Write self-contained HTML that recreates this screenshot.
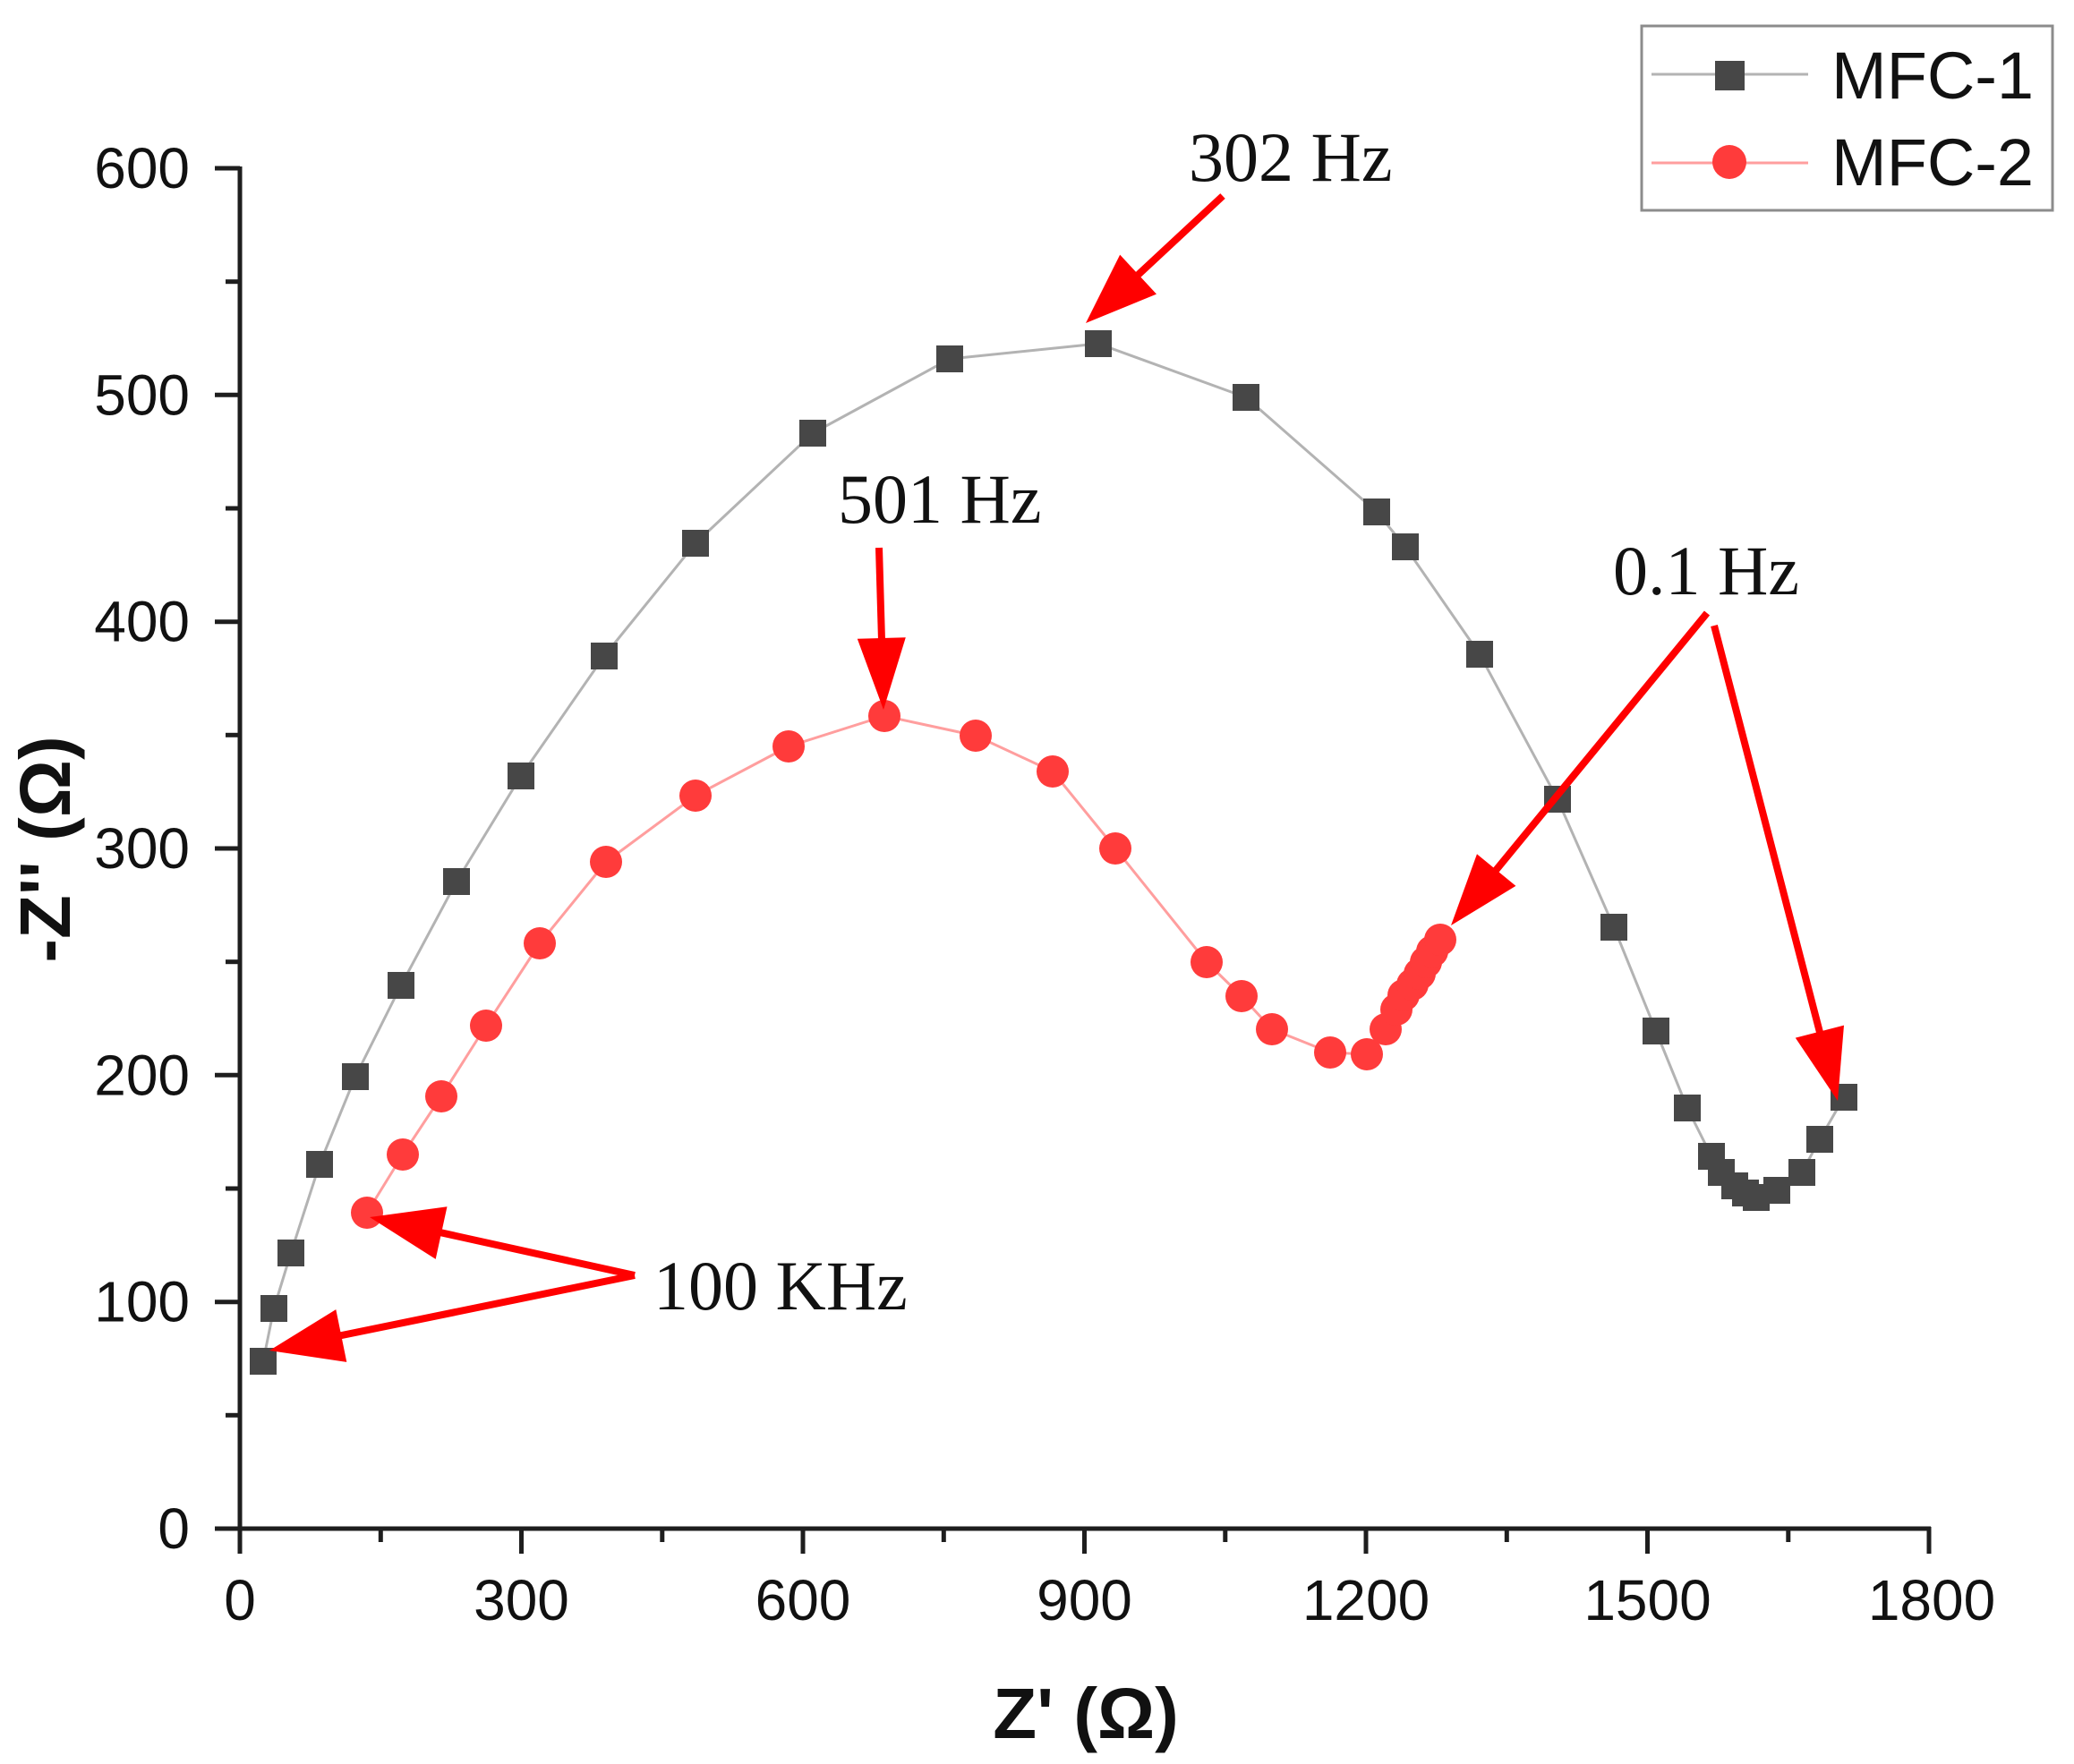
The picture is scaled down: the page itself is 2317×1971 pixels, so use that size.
<!DOCTYPE html>
<html>
<head>
<meta charset="utf-8">
<style>
html,body{margin:0;padding:0;background:#fff;}
svg{display:block;}
</style>
</head>
<body>
<svg width="2317" height="1971" viewBox="0 0 2317 1971" xmlns="http://www.w3.org/2000/svg">
<rect x="0" y="0" width="2317" height="1971" fill="#fff"/>

<!-- Axes -->
<g stroke="#1e1e1e" stroke-width="5" fill="none" stroke-linecap="butt">
  <line x1="268" y1="186" x2="268" y2="1736"/>
  <line x1="240" y1="1708" x2="2157" y2="1708"/>
  <line x1="240" y1="188" x2="268" y2="188"/>
  <line x1="240" y1="441.3" x2="268" y2="441.3"/>
  <line x1="240" y1="694.7" x2="268" y2="694.7"/>
  <line x1="240" y1="948" x2="268" y2="948"/>
  <line x1="240" y1="1201.3" x2="268" y2="1201.3"/>
  <line x1="240" y1="1454.7" x2="268" y2="1454.7"/>
  <line x1="252" y1="314.7" x2="268" y2="314.7"/>
  <line x1="252" y1="568" x2="268" y2="568"/>
  <line x1="252" y1="821.3" x2="268" y2="821.3"/>
  <line x1="252" y1="1074.7" x2="268" y2="1074.7"/>
  <line x1="252" y1="1328" x2="268" y2="1328"/>
  <line x1="252" y1="1581.3" x2="268" y2="1581.3"/>
  <line x1="582.5" y1="1708" x2="582.5" y2="1736"/>
  <line x1="897" y1="1708" x2="897" y2="1736"/>
  <line x1="1211.5" y1="1708" x2="1211.5" y2="1736"/>
  <line x1="1526" y1="1708" x2="1526" y2="1736"/>
  <line x1="1840.5" y1="1708" x2="1840.5" y2="1736"/>
  <line x1="2155" y1="1706" x2="2155" y2="1736"/>
  <line x1="425.3" y1="1708" x2="425.3" y2="1723"/>
  <line x1="739.8" y1="1708" x2="739.8" y2="1723"/>
  <line x1="1054.3" y1="1708" x2="1054.3" y2="1723"/>
  <line x1="1368.8" y1="1708" x2="1368.8" y2="1723"/>
  <line x1="1683.3" y1="1708" x2="1683.3" y2="1723"/>
  <line x1="1997.8" y1="1708" x2="1997.8" y2="1723"/>
</g>

<!-- Tick labels -->
<g font-family="'Liberation Sans', Arial, sans-serif" font-size="64" fill="#111">
  <g text-anchor="end">
    <text x="212" y="210">600</text>
    <text x="212" y="463.3">500</text>
    <text x="212" y="716.7">400</text>
    <text x="212" y="970">300</text>
    <text x="212" y="1223.3">200</text>
    <text x="212" y="1476.7">100</text>
    <text x="212" y="1730">0</text>
  </g>
  <g text-anchor="middle">
    <text x="268" y="1810">0</text>
    <text x="582.5" y="1810">300</text>
    <text x="897" y="1810">600</text>
    <text x="1211.5" y="1810">900</text>
    <text x="1526" y="1810">1200</text>
    <text x="1840.5" y="1810">1500</text>
    <text x="2158" y="1810">1800</text>
  </g>
</g>

<!-- Axis titles -->
<text x="1213" y="1942" text-anchor="middle" font-family="'Liberation Sans', Arial, sans-serif" font-weight="bold" font-size="80" fill="#111">Z' (Ω)</text>
<text transform="translate(78,949) rotate(-90)" x="0" y="0" text-anchor="middle" font-family="'Liberation Sans', Arial, sans-serif" font-weight="bold" font-size="80" fill="#111">-Z'' (Ω)</text>

<!-- MFC-1 line -->
<polyline fill="none" stroke="#b3b3b3" stroke-width="3" stroke-linejoin="round"
points="294,1521 306,1462 325,1400 357,1301 397,1203 448,1101 510,985 582,867 675,733 777,607 908,484 1061,401 1227,384 1392,444 1538,572 1570,611 1653,731 1740,893 1803,1036 1850,1152 1885,1238 1912,1292 1923,1310 1938,1325 1950,1333 1962,1338 1985,1330 2013,1310 2033,1273 2060,1226"/>

<!-- MFC-2 line -->
<polyline fill="none" stroke="#ff9e9e" stroke-width="3" stroke-linejoin="round"
points="410,1355 450,1290 493,1225 543,1146 603,1054 677,963 777,889 881,834 988,800 1090,822 1176,862 1246,948 1348,1075 1387,1113 1421,1150 1486,1176 1527,1178 1548,1150 1560,1128 1568,1112 1578,1100 1586,1088 1593,1075 1600,1063 1609,1050"/>

<!-- MFC-1 squares -->
<g fill="#474747">
<rect x="279" y="1506" width="30" height="30"/>
<rect x="291" y="1447" width="30" height="30"/>
<rect x="310" y="1385" width="30" height="30"/>
<rect x="342" y="1286" width="30" height="30"/>
<rect x="382" y="1188" width="30" height="30"/>
<rect x="433" y="1086" width="30" height="30"/>
<rect x="495" y="970" width="30" height="30"/>
<rect x="567" y="852" width="30" height="30"/>
<rect x="660" y="718" width="30" height="30"/>
<rect x="762" y="592" width="30" height="30"/>
<rect x="893" y="469" width="30" height="30"/>
<rect x="1046" y="386" width="30" height="30"/>
<rect x="1212" y="369" width="30" height="30"/>
<rect x="1377" y="429" width="30" height="30"/>
<rect x="1523" y="557" width="30" height="30"/>
<rect x="1555" y="596" width="30" height="30"/>
<rect x="1638" y="716" width="30" height="30"/>
<rect x="1725" y="878" width="30" height="30"/>
<rect x="1788" y="1021" width="30" height="30"/>
<rect x="1835" y="1137" width="30" height="30"/>
<rect x="1870" y="1223" width="30" height="30"/>
<rect x="1897" y="1277" width="30" height="30"/>
<rect x="1908" y="1295" width="30" height="30"/>
<rect x="1923" y="1310" width="30" height="30"/>
<rect x="1935" y="1318" width="30" height="30"/>
<rect x="1947" y="1323" width="30" height="30"/>
<rect x="1970" y="1315" width="30" height="30"/>
<rect x="1998" y="1295" width="30" height="30"/>
<rect x="2018" y="1258" width="30" height="30"/>
<rect x="2045" y="1211" width="30" height="30"/>
</g>

<!-- MFC-2 circles -->
<g fill="#ff3b3b">
<circle cx="410" cy="1355" r="18"/>
<circle cx="450" cy="1290" r="18"/>
<circle cx="493" cy="1225" r="18"/>
<circle cx="543" cy="1146" r="18"/>
<circle cx="603" cy="1054" r="18"/>
<circle cx="677" cy="963" r="18"/>
<circle cx="777" cy="889" r="18"/>
<circle cx="881" cy="834" r="18"/>
<circle cx="988" cy="800" r="18"/>
<circle cx="1090" cy="822" r="18"/>
<circle cx="1176" cy="862" r="18"/>
<circle cx="1246" cy="948" r="18"/>
<circle cx="1348" cy="1075" r="18"/>
<circle cx="1387" cy="1113" r="18"/>
<circle cx="1421" cy="1150" r="18"/>
<circle cx="1486" cy="1176" r="18"/>
<circle cx="1527" cy="1178" r="18"/>
<circle cx="1548" cy="1150" r="18"/>
<circle cx="1560" cy="1128" r="18"/>
<circle cx="1568" cy="1112" r="18"/>
<circle cx="1578" cy="1100" r="18"/>
<circle cx="1586" cy="1088" r="18"/>
<circle cx="1593" cy="1075" r="18"/>
<circle cx="1600" cy="1063" r="18"/>
<circle cx="1609" cy="1050" r="18"/>
</g>

<!-- Arrows -->
<g stroke="#ff0000" stroke-width="8" fill="none" stroke-linecap="butt">
  <line x1="1366" y1="219" x2="1250" y2="327"/>
  <line x1="982" y1="612" x2="986" y2="750"/>
  <line x1="709" y1="1425" x2="455" y2="1369"/>
  <line x1="709" y1="1425" x2="343" y2="1500"/>
  <line x1="1907" y1="685" x2="1646" y2="1003"/>
  <line x1="1915" y1="699" x2="2043" y2="1192"/>
</g>
<g fill="#ff0000">
  <polygon points="1213,361 1251.2,284.6 1292,328.6"/>
  <polygon points="987,793 957.8,713.7 1011.8,712.3"/>
  <polygon points="413,1360 499.5,1348.3 486.7,1406.9"/>
  <polygon points="301,1509 375.3,1463.1 387.3,1521.9"/>
  <polygon points="1621,1034 1650,954.3 1693.4,989.9"/>
  <polygon points="2053,1230 2005.8,1159.6 2060,1145.6"/>
</g>

<!-- Annotations -->
<g font-family="'Liberation Serif', 'Times New Roman', serif" font-size="78" fill="#111">
  <text x="1328" y="202">302 Hz</text>
  <text x="936" y="584">501 Hz</text>
  <text x="1802" y="664">0.1 Hz</text>
  <text x="730" y="1463">100 KHz</text>
</g>

<!-- Legend -->
<rect x="1834" y="29" width="459" height="206" fill="#fff" stroke="#8c8c8c" stroke-width="3"/>
<line x1="1845" y1="83" x2="2020" y2="83" stroke="#b3b3b3" stroke-width="3"/>
<rect x="1916" y="68" width="33" height="33" fill="#474747"/>
<line x1="1845" y1="182" x2="2020" y2="182" stroke="#ff9e9e" stroke-width="3"/>
<circle cx="1932" cy="181" r="19" fill="#ff3b3b"/>
<g font-family="'Liberation Sans', Arial, sans-serif" font-size="74" fill="#111">
  <text x="2046" y="110">MFC-1</text>
  <text x="2046" y="207">MFC-2</text>
</g>
</svg>
</body>
</html>
